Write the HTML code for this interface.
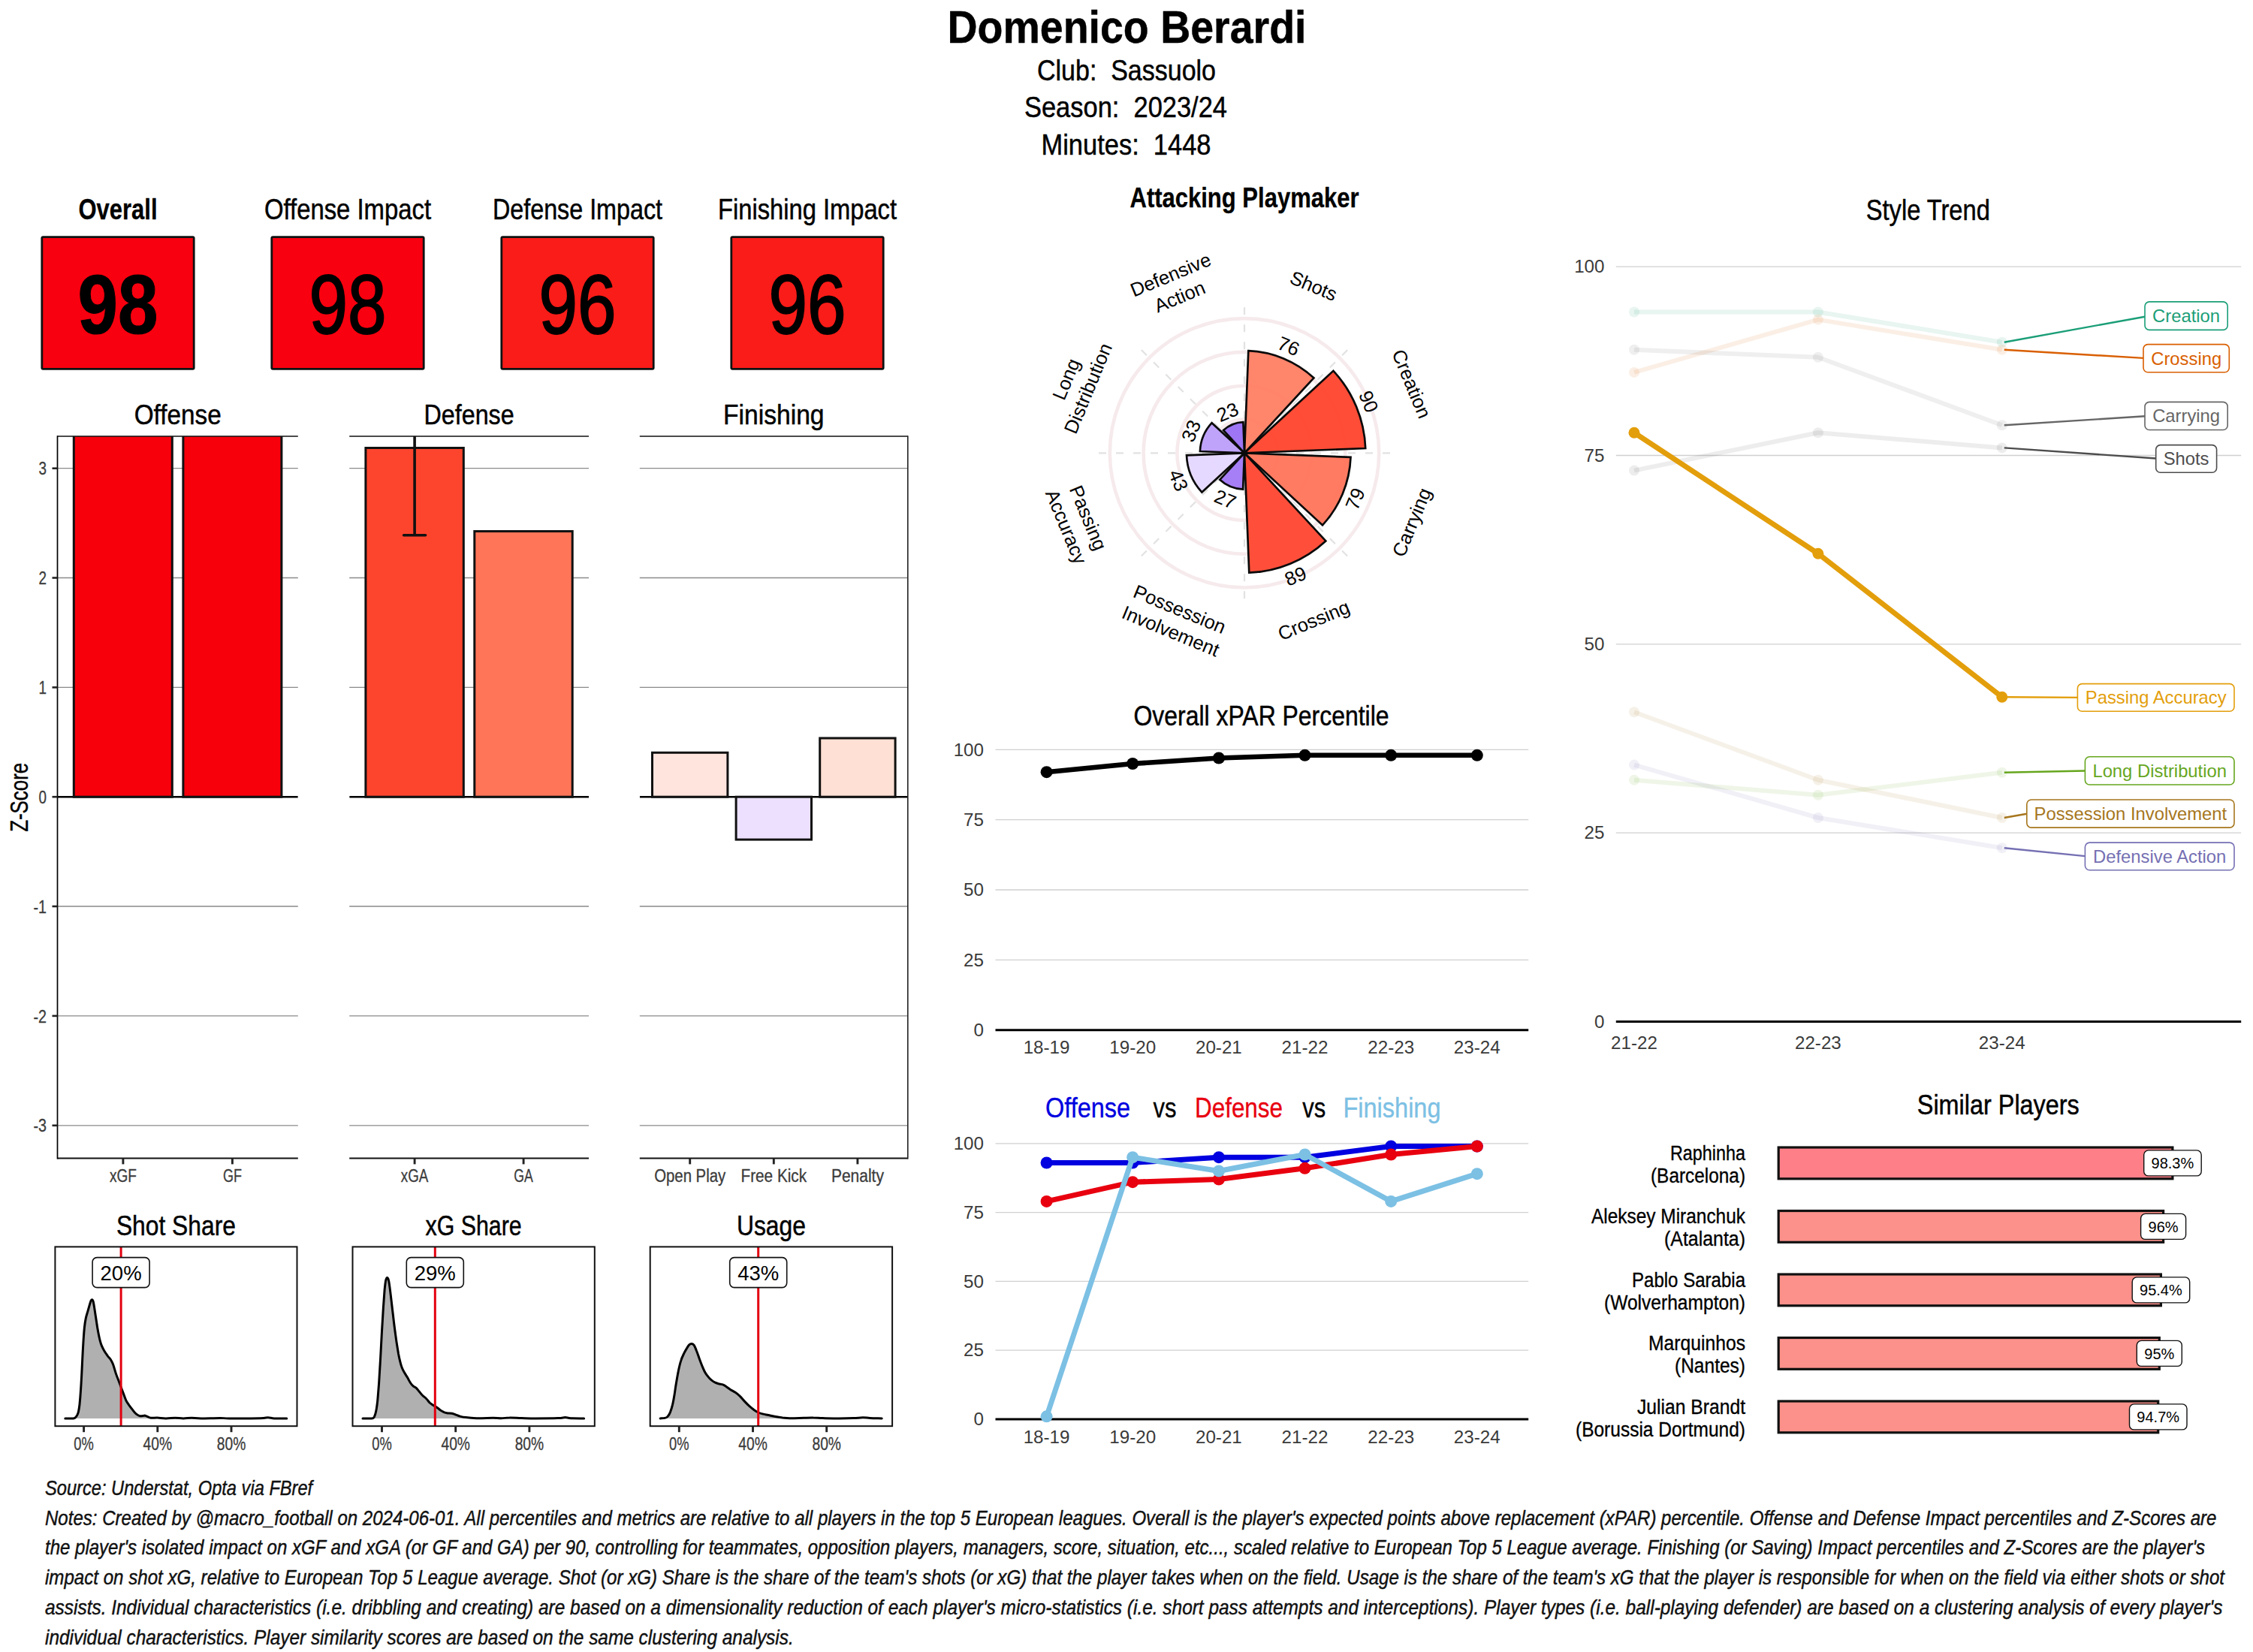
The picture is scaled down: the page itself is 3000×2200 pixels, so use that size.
<!DOCTYPE html>
<html><head><meta charset="utf-8"><title>Domenico Berardi</title>
<style>
html,body{margin:0;padding:0;background:#fff;}
svg{display:block;font-family:"Liberation Sans",Arial,sans-serif;}
</style></head><body>
<svg width="3000" height="2200" viewBox="0 0 3000 2200">
<rect x="0" y="0" width="3000" height="2200" fill="#fff"/>
<g id="title">
<text x="1500.5" y="57.4" font-size="60.5" text-anchor="middle" fill="#000" stroke="#000" stroke-width="0.48" stroke-linejoin="round" font-weight="bold" textLength="478.0" lengthAdjust="spacingAndGlyphs">Domenico Berardi</text>
<text x="1500.0" y="106.5" font-size="38" text-anchor="middle" fill="#000" stroke="#000" stroke-width="0.49" stroke-linejoin="round" textLength="238.0" lengthAdjust="spacingAndGlyphs" xml:space="preserve">Club:  Sassuolo</text>
<text x="1499.0" y="155.5" font-size="38" text-anchor="middle" fill="#000" stroke="#000" stroke-width="0.49" stroke-linejoin="round" textLength="270.0" lengthAdjust="spacingAndGlyphs" xml:space="preserve">Season:  2023/24</text>
<text x="1499.5" y="206.0" font-size="38" text-anchor="middle" fill="#000" stroke="#000" stroke-width="0.49" stroke-linejoin="round" textLength="226.0" lengthAdjust="spacingAndGlyphs" xml:space="preserve">Minutes:  1448</text>
</g>
<g id="boxes">
<rect x="55.8" y="315.6" width="202.4" height="175.7" rx="1.5" fill="#F8000F" stroke="#111" stroke-width="2.8"/>
<text x="157.0" y="292.0" font-size="38" text-anchor="middle" fill="#000" stroke="#000" stroke-width="0.30" stroke-linejoin="round" font-weight="bold" textLength="105.0" lengthAdjust="spacingAndGlyphs">Overall</text>
<text x="157.0" y="443.6" font-size="110.5" text-anchor="middle" fill="#000" stroke="#000" stroke-width="1.20" stroke-linejoin="round" font-weight="bold" textLength="107.0" lengthAdjust="spacingAndGlyphs">98</text>
<rect x="361.8" y="315.6" width="202.4" height="175.7" rx="1.5" fill="#F8000F" stroke="#111" stroke-width="2.8"/>
<text x="463.0" y="292.0" font-size="38" text-anchor="middle" fill="#000" stroke="#000" stroke-width="0.49" stroke-linejoin="round" textLength="222.0" lengthAdjust="spacingAndGlyphs">Offense Impact</text>
<text x="463.0" y="443.6" font-size="110.5" text-anchor="middle" fill="#000" stroke="#000" stroke-width="2.00" stroke-linejoin="round" textLength="103.0" lengthAdjust="spacingAndGlyphs">98</text>
<rect x="667.8" y="315.6" width="202.4" height="175.7" rx="1.5" fill="#F91C18" stroke="#111" stroke-width="2.8"/>
<text x="769.0" y="292.0" font-size="38" text-anchor="middle" fill="#000" stroke="#000" stroke-width="0.49" stroke-linejoin="round" textLength="226.0" lengthAdjust="spacingAndGlyphs">Defense Impact</text>
<text x="769.0" y="443.6" font-size="110.5" text-anchor="middle" fill="#000" stroke="#000" stroke-width="2.00" stroke-linejoin="round" textLength="103.0" lengthAdjust="spacingAndGlyphs">96</text>
<rect x="973.8" y="315.6" width="202.4" height="175.7" rx="1.5" fill="#F91C18" stroke="#111" stroke-width="2.8"/>
<text x="1075.0" y="292.0" font-size="38" text-anchor="middle" fill="#000" stroke="#000" stroke-width="0.49" stroke-linejoin="round" textLength="238.0" lengthAdjust="spacingAndGlyphs">Finishing Impact</text>
<text x="1075.0" y="443.6" font-size="110.5" text-anchor="middle" fill="#000" stroke="#000" stroke-width="2.00" stroke-linejoin="round" textLength="103.0" lengthAdjust="spacingAndGlyphs">96</text>
</g>
<g id="bars">
<line x1="76.5" x2="396.8" y1="1498.8" y2="1498.8" stroke="#8a8a8a" stroke-width="1.3"/>
<line x1="76.5" x2="396.8" y1="1352.9" y2="1352.9" stroke="#8a8a8a" stroke-width="1.3"/>
<line x1="76.5" x2="396.8" y1="1207.0" y2="1207.0" stroke="#8a8a8a" stroke-width="1.3"/>
<line x1="76.5" x2="396.8" y1="915.4" y2="915.4" stroke="#8a8a8a" stroke-width="1.3"/>
<line x1="76.5" x2="396.8" y1="769.5" y2="769.5" stroke="#8a8a8a" stroke-width="1.3"/>
<line x1="76.5" x2="396.8" y1="623.7" y2="623.7" stroke="#8a8a8a" stroke-width="1.3"/>
<clipPath id="cp0"><rect x="76.5" y="581" width="320.3" height="961.4000000000001"/></clipPath>
<g clip-path="url(#cp0)">
<line x1="76.5" x2="396.8" y1="1061.2" y2="1061.2" stroke="#000" stroke-width="2.5"/>
<rect x="98.3" y="565.3" width="131.0" height="495.9" fill="#F7000C" stroke="#111" stroke-width="3"/>
<rect x="243.9" y="565.3" width="131.0" height="495.9" fill="#F7000C" stroke="#111" stroke-width="3"/>
</g>
<line x1="76.5" x2="396.8" y1="581" y2="581" stroke="#111" stroke-width="1.6"/>
<line x1="76.5" x2="396.8" y1="1542.4" y2="1542.4" stroke="#111" stroke-width="2"/>
<line x1="76.5" x2="76.5" y1="580.2" y2="1543.4" stroke="#000" stroke-width="1.7"/>
<line x1="163.9" x2="163.9" y1="1542.4" y2="1550.4" stroke="#222" stroke-width="2.9"/>
<text x="163.9" y="1574.0" font-size="23.5" text-anchor="middle" fill="#3c3c3c" stroke="#3c3c3c" stroke-width="0.31" stroke-linejoin="round" textLength="36.0" lengthAdjust="spacingAndGlyphs">xGF</text>
<line x1="309.4" x2="309.4" y1="1542.4" y2="1550.4" stroke="#222" stroke-width="2.9"/>
<text x="309.4" y="1574.0" font-size="23.5" text-anchor="middle" fill="#3c3c3c" stroke="#3c3c3c" stroke-width="0.31" stroke-linejoin="round" textLength="25.0" lengthAdjust="spacingAndGlyphs">GF</text>
<text x="236.7" y="565.0" font-size="37" text-anchor="middle" fill="#000" stroke="#000" stroke-width="0.48" stroke-linejoin="round" textLength="116.0" lengthAdjust="spacingAndGlyphs">Offense</text>
<line x1="465.2" x2="784" y1="1498.8" y2="1498.8" stroke="#8a8a8a" stroke-width="1.3"/>
<line x1="465.2" x2="784" y1="1352.9" y2="1352.9" stroke="#8a8a8a" stroke-width="1.3"/>
<line x1="465.2" x2="784" y1="1207.0" y2="1207.0" stroke="#8a8a8a" stroke-width="1.3"/>
<line x1="465.2" x2="784" y1="915.4" y2="915.4" stroke="#8a8a8a" stroke-width="1.3"/>
<line x1="465.2" x2="784" y1="769.5" y2="769.5" stroke="#8a8a8a" stroke-width="1.3"/>
<line x1="465.2" x2="784" y1="623.7" y2="623.7" stroke="#8a8a8a" stroke-width="1.3"/>
<clipPath id="cp1"><rect x="465.2" y="581" width="318.8" height="961.4000000000001"/></clipPath>
<g clip-path="url(#cp1)">
<line x1="465.2" x2="784" y1="1061.2" y2="1061.2" stroke="#000" stroke-width="2.5"/>
<rect x="486.9" y="596.5" width="130.4" height="464.7" fill="#FD452E" stroke="#111" stroke-width="3"/>
<rect x="631.8" y="707.5" width="130.4" height="353.7" fill="#FE7558" stroke="#111" stroke-width="3"/>
<path d="M552.1 570V712.8M537.6 712.8H566.6" stroke="#111" stroke-width="3.6" stroke-linecap="round" fill="none"/>
</g>
<line x1="465.2" x2="784" y1="581" y2="581" stroke="#111" stroke-width="1.6"/>
<line x1="465.2" x2="784" y1="1542.4" y2="1542.4" stroke="#111" stroke-width="2"/>
<line x1="552.1" x2="552.1" y1="1542.4" y2="1550.4" stroke="#222" stroke-width="2.9"/>
<text x="552.1" y="1574.0" font-size="23.5" text-anchor="middle" fill="#3c3c3c" stroke="#3c3c3c" stroke-width="0.31" stroke-linejoin="round" textLength="36.5" lengthAdjust="spacingAndGlyphs">xGA</text>
<line x1="697.1" x2="697.1" y1="1542.4" y2="1550.4" stroke="#222" stroke-width="2.9"/>
<text x="697.1" y="1574.0" font-size="23.5" text-anchor="middle" fill="#3c3c3c" stroke="#3c3c3c" stroke-width="0.31" stroke-linejoin="round" textLength="25.5" lengthAdjust="spacingAndGlyphs">GA</text>
<text x="624.6" y="565.0" font-size="37" text-anchor="middle" fill="#000" stroke="#000" stroke-width="0.48" stroke-linejoin="round" textLength="120.0" lengthAdjust="spacingAndGlyphs">Defense</text>
<line x1="851.8" x2="1208.8" y1="1498.8" y2="1498.8" stroke="#8a8a8a" stroke-width="1.3"/>
<line x1="851.8" x2="1208.8" y1="1352.9" y2="1352.9" stroke="#8a8a8a" stroke-width="1.3"/>
<line x1="851.8" x2="1208.8" y1="1207.0" y2="1207.0" stroke="#8a8a8a" stroke-width="1.3"/>
<line x1="851.8" x2="1208.8" y1="915.4" y2="915.4" stroke="#8a8a8a" stroke-width="1.3"/>
<line x1="851.8" x2="1208.8" y1="769.5" y2="769.5" stroke="#8a8a8a" stroke-width="1.3"/>
<line x1="851.8" x2="1208.8" y1="623.7" y2="623.7" stroke="#8a8a8a" stroke-width="1.3"/>
<clipPath id="cp2"><rect x="851.8" y="581" width="357.0" height="961.4000000000001"/></clipPath>
<g clip-path="url(#cp2)">
<line x1="851.8" x2="1208.8" y1="1061.2" y2="1061.2" stroke="#000" stroke-width="2.5"/>
<rect x="868.5" y="1002.3" width="100.4" height="58.9" fill="#FEE4DD" stroke="#111" stroke-width="3"/>
<rect x="980.1" y="1061.2" width="100.4" height="56.9" fill="#ECE0FE" stroke="#111" stroke-width="3"/>
<rect x="1091.7" y="983.0" width="100.4" height="78.2" fill="#FEE0D4" stroke="#111" stroke-width="3"/>
</g>
<line x1="851.8" x2="1208.8" y1="581" y2="581" stroke="#111" stroke-width="1.6"/>
<line x1="851.8" x2="1208.8" y1="1542.4" y2="1542.4" stroke="#111" stroke-width="2"/>
<line x1="1208.8" x2="1208.8" y1="580.2" y2="1543.4" stroke="#222" stroke-width="1.6"/>
<line x1="918.7" x2="918.7" y1="1542.4" y2="1550.4" stroke="#222" stroke-width="2.9"/>
<text x="918.7" y="1574.0" font-size="23.5" text-anchor="middle" fill="#3c3c3c" stroke="#3c3c3c" stroke-width="0.31" stroke-linejoin="round" textLength="95.0" lengthAdjust="spacingAndGlyphs">Open Play</text>
<line x1="1030.3" x2="1030.3" y1="1542.4" y2="1550.4" stroke="#222" stroke-width="2.9"/>
<text x="1030.3" y="1574.0" font-size="23.5" text-anchor="middle" fill="#3c3c3c" stroke="#3c3c3c" stroke-width="0.31" stroke-linejoin="round" textLength="87.5" lengthAdjust="spacingAndGlyphs">Free Kick</text>
<line x1="1141.9" x2="1141.9" y1="1542.4" y2="1550.4" stroke="#222" stroke-width="2.9"/>
<text x="1141.9" y="1574.0" font-size="23.5" text-anchor="middle" fill="#3c3c3c" stroke="#3c3c3c" stroke-width="0.31" stroke-linejoin="round" textLength="70.0" lengthAdjust="spacingAndGlyphs">Penalty</text>
<text x="1030.3" y="565.0" font-size="37" text-anchor="middle" fill="#000" stroke="#000" stroke-width="0.48" stroke-linejoin="round" textLength="134.5" lengthAdjust="spacingAndGlyphs">Finishing</text>
<line x1="69.5" x2="76.5" y1="1498.8" y2="1498.8" stroke="#222" stroke-width="2.6"/>
<text x="62.0" y="1507.3" font-size="24" text-anchor="end" fill="#3c3c3c" stroke="#3c3c3c" stroke-width="0.31" stroke-linejoin="round" textLength="17.5" lengthAdjust="spacingAndGlyphs">-3</text>
<line x1="69.5" x2="76.5" y1="1352.9" y2="1352.9" stroke="#222" stroke-width="2.6"/>
<text x="62.0" y="1361.5" font-size="24" text-anchor="end" fill="#3c3c3c" stroke="#3c3c3c" stroke-width="0.31" stroke-linejoin="round" textLength="17.5" lengthAdjust="spacingAndGlyphs">-2</text>
<line x1="69.5" x2="76.5" y1="1207.0" y2="1207.0" stroke="#222" stroke-width="2.6"/>
<text x="62.0" y="1215.6" font-size="24" text-anchor="end" fill="#3c3c3c" stroke="#3c3c3c" stroke-width="0.31" stroke-linejoin="round" textLength="17.5" lengthAdjust="spacingAndGlyphs">-1</text>
<line x1="69.5" x2="76.5" y1="1061.2" y2="1061.2" stroke="#222" stroke-width="2.6"/>
<text x="62.0" y="1069.8" font-size="24" text-anchor="end" fill="#3c3c3c" stroke="#3c3c3c" stroke-width="0.31" stroke-linejoin="round" textLength="10.5" lengthAdjust="spacingAndGlyphs">0</text>
<line x1="69.5" x2="76.5" y1="915.4" y2="915.4" stroke="#222" stroke-width="2.6"/>
<text x="62.0" y="924.0" font-size="24" text-anchor="end" fill="#3c3c3c" stroke="#3c3c3c" stroke-width="0.31" stroke-linejoin="round" textLength="10.5" lengthAdjust="spacingAndGlyphs">1</text>
<line x1="69.5" x2="76.5" y1="769.5" y2="769.5" stroke="#222" stroke-width="2.6"/>
<text x="62.0" y="778.1" font-size="24" text-anchor="end" fill="#3c3c3c" stroke="#3c3c3c" stroke-width="0.31" stroke-linejoin="round" textLength="10.5" lengthAdjust="spacingAndGlyphs">2</text>
<line x1="69.5" x2="76.5" y1="623.7" y2="623.7" stroke="#222" stroke-width="2.6"/>
<text x="62.0" y="632.3" font-size="24" text-anchor="end" fill="#3c3c3c" stroke="#3c3c3c" stroke-width="0.31" stroke-linejoin="round" textLength="10.5" lengthAdjust="spacingAndGlyphs">3</text>
<text x="37.0" y="1061.8" font-size="32.5" text-anchor="middle" fill="#000" stroke="#000" stroke-width="0.42" stroke-linejoin="round" textLength="92.0" lengthAdjust="spacingAndGlyphs" transform="rotate(-90.00 37.0 1061.8)">Z-Score</text>
</g>
<g id="dens">
<path d="M86.8 1888.9C88.6 1888.9 95.4 1889.2 97.8 1888.9C100.2 1888.6 100.2 1888.1 101.2 1886.9C102.3 1885.6 103.3 1884.1 104.1 1881.4C104.9 1878.6 105.4 1875.3 106.0 1870.3C106.5 1865.3 107.0 1859.3 107.5 1851.4C108.1 1843.6 108.6 1833.1 109.1 1823.1C109.6 1813.2 110.1 1800.8 110.7 1791.6C111.2 1782.5 111.8 1774.1 112.4 1768.0C113.0 1762.0 113.5 1759.4 114.3 1755.4C115.1 1751.5 116.4 1748.1 117.4 1744.4C118.5 1740.8 119.8 1735.7 120.6 1733.4C121.4 1731.1 121.9 1730.7 122.5 1730.7C123.1 1730.7 123.6 1731.1 124.2 1733.4C124.8 1735.7 125.4 1740.0 126.1 1744.4C126.8 1748.9 127.7 1755.2 128.5 1760.2C129.2 1765.2 130.0 1770.1 130.8 1774.3C131.6 1778.5 132.4 1782.3 133.2 1785.3C134.0 1788.4 134.6 1790.2 135.5 1792.4C136.5 1794.7 137.4 1796.5 138.7 1798.7C140.0 1801.0 142.0 1803.8 143.4 1805.8C144.9 1807.8 146.2 1808.7 147.3 1810.5C148.5 1812.4 149.3 1813.7 150.5 1816.8C151.7 1820.0 153.0 1825.2 154.4 1829.4C155.9 1833.6 157.6 1837.8 159.2 1842.0C160.7 1846.2 162.4 1850.8 163.9 1854.6C165.3 1858.4 166.5 1862.1 167.8 1864.8C169.1 1867.6 170.3 1869.0 171.7 1871.1C173.2 1873.2 174.9 1875.4 176.5 1877.4C178.0 1879.4 179.6 1881.6 181.2 1882.9C182.8 1884.3 184.5 1885.2 185.9 1885.6C187.3 1886.0 188.7 1885.7 189.8 1885.6C191.0 1885.5 191.9 1885.0 193.0 1885.1C194.0 1885.3 194.8 1885.9 196.1 1886.4C197.4 1886.9 198.6 1888.0 200.9 1888.3C203.1 1888.5 206.2 1887.9 209.5 1888.0C212.8 1888.1 216.6 1888.9 220.5 1888.9C224.5 1889.0 229.2 1888.3 233.1 1888.3C237.1 1888.3 240.5 1888.9 244.1 1888.9C247.8 1888.9 251.2 1888.3 255.2 1888.3C259.1 1888.3 261.4 1888.9 267.7 1888.9C274.0 1888.9 286.6 1888.4 292.9 1888.4C299.2 1888.4 296.6 1888.9 305.5 1888.9C314.4 1889.0 337.9 1888.9 346.4 1888.7C355.0 1888.6 353.5 1887.8 356.7 1887.8C359.8 1887.8 361.1 1888.7 365.3 1888.9C369.5 1889.1 379.1 1888.9 381.8 1888.9L381.8 1888.9L86.8 1888.9Z" fill="#b0b0b0"/>
<path d="M86.8 1888.9C88.6 1888.9 95.4 1889.2 97.8 1888.9C100.2 1888.6 100.2 1888.1 101.2 1886.9C102.3 1885.6 103.3 1884.1 104.1 1881.4C104.9 1878.6 105.4 1875.3 106.0 1870.3C106.5 1865.3 107.0 1859.3 107.5 1851.4C108.1 1843.6 108.6 1833.1 109.1 1823.1C109.6 1813.2 110.1 1800.8 110.7 1791.6C111.2 1782.5 111.8 1774.1 112.4 1768.0C113.0 1762.0 113.5 1759.4 114.3 1755.4C115.1 1751.5 116.4 1748.1 117.4 1744.4C118.5 1740.8 119.8 1735.7 120.6 1733.4C121.4 1731.1 121.9 1730.7 122.5 1730.7C123.1 1730.7 123.6 1731.1 124.2 1733.4C124.8 1735.7 125.4 1740.0 126.1 1744.4C126.8 1748.9 127.7 1755.2 128.5 1760.2C129.2 1765.2 130.0 1770.1 130.8 1774.3C131.6 1778.5 132.4 1782.3 133.2 1785.3C134.0 1788.4 134.6 1790.2 135.5 1792.4C136.5 1794.7 137.4 1796.5 138.7 1798.7C140.0 1801.0 142.0 1803.8 143.4 1805.8C144.9 1807.8 146.2 1808.7 147.3 1810.5C148.5 1812.4 149.3 1813.7 150.5 1816.8C151.7 1820.0 153.0 1825.2 154.4 1829.4C155.9 1833.6 157.6 1837.8 159.2 1842.0C160.7 1846.2 162.4 1850.8 163.9 1854.6C165.3 1858.4 166.5 1862.1 167.8 1864.8C169.1 1867.6 170.3 1869.0 171.7 1871.1C173.2 1873.2 174.9 1875.4 176.5 1877.4C178.0 1879.4 179.6 1881.6 181.2 1882.9C182.8 1884.3 184.5 1885.2 185.9 1885.6C187.3 1886.0 188.7 1885.7 189.8 1885.6C191.0 1885.5 191.9 1885.0 193.0 1885.1C194.0 1885.3 194.8 1885.9 196.1 1886.4C197.4 1886.9 198.6 1888.0 200.9 1888.3C203.1 1888.5 206.2 1887.9 209.5 1888.0C212.8 1888.1 216.6 1888.9 220.5 1888.9C224.5 1889.0 229.2 1888.3 233.1 1888.3C237.1 1888.3 240.5 1888.9 244.1 1888.9C247.8 1888.9 251.2 1888.3 255.2 1888.3C259.1 1888.3 261.4 1888.9 267.7 1888.9C274.0 1888.9 286.6 1888.4 292.9 1888.4C299.2 1888.4 296.6 1888.9 305.5 1888.9C314.4 1889.0 337.9 1888.9 346.4 1888.7C355.0 1888.6 353.5 1887.8 356.7 1887.8C359.8 1887.8 361.1 1888.7 365.3 1888.9C369.5 1889.1 379.1 1888.9 381.8 1888.9" fill="none" stroke="#000" stroke-width="3" stroke-linejoin="round" stroke-linecap="round"/>
<line x1="161.1" x2="161.1" y1="1660.4" y2="1899.2" stroke="#E3000F" stroke-width="3"/>
<rect x="73.4" y="1660.4" width="322.1" height="238.8" fill="none" stroke="#111" stroke-width="2"/>
<rect x="123.1" y="1674.6" width="76" height="40" rx="6" fill="#fff" stroke="#111" stroke-width="1.6"/>
<text x="161.1" y="1704.5" font-size="27.5" text-anchor="middle" fill="#000">20%</text>
<line x1="111.6" x2="111.6" y1="1899.2" y2="1907.2" stroke="#222" stroke-width="2.9"/>
<text x="111.6" y="1931.2" font-size="23.5" text-anchor="middle" fill="#3c3c3c" stroke="#3c3c3c" stroke-width="0.31" stroke-linejoin="round" textLength="26.5" lengthAdjust="spacingAndGlyphs">0%</text>
<line x1="209.8" x2="209.8" y1="1899.2" y2="1907.2" stroke="#222" stroke-width="2.9"/>
<text x="209.8" y="1931.2" font-size="23.5" text-anchor="middle" fill="#3c3c3c" stroke="#3c3c3c" stroke-width="0.31" stroke-linejoin="round" textLength="38.5" lengthAdjust="spacingAndGlyphs">40%</text>
<line x1="308.0" x2="308.0" y1="1899.2" y2="1907.2" stroke="#222" stroke-width="2.9"/>
<text x="308.0" y="1931.2" font-size="23.5" text-anchor="middle" fill="#3c3c3c" stroke="#3c3c3c" stroke-width="0.31" stroke-linejoin="round" textLength="38.5" lengthAdjust="spacingAndGlyphs">80%</text>
<text x="234.4" y="1644.5" font-size="37" text-anchor="middle" fill="#000" stroke="#000" stroke-width="0.48" stroke-linejoin="round" textLength="159.0" lengthAdjust="spacingAndGlyphs">Shot Share</text>
<path d="M483.0 1888.9C485.0 1888.9 492.6 1889.2 495.1 1888.9C497.7 1888.6 497.4 1888.4 498.3 1886.9C499.2 1885.3 499.9 1883.3 500.6 1879.8C501.4 1876.2 502.0 1871.9 502.7 1865.6C503.3 1859.3 503.9 1851.2 504.6 1842.0C505.2 1832.8 505.8 1822.1 506.5 1810.5C507.1 1799.0 507.9 1784.3 508.5 1772.8C509.2 1761.2 509.8 1750.5 510.4 1741.3C511.0 1732.1 511.6 1723.7 512.1 1717.7C512.7 1711.6 513.1 1707.8 513.7 1705.1C514.3 1702.4 515.0 1701.6 515.6 1701.6C516.2 1701.6 516.9 1702.7 517.5 1705.1C518.1 1707.5 518.6 1711.6 519.2 1716.1C519.8 1720.6 520.4 1725.8 521.1 1731.8C521.8 1737.9 522.7 1745.7 523.5 1752.3C524.2 1758.9 525.0 1765.2 525.8 1771.2C526.6 1777.2 527.4 1783.2 528.2 1788.5C529.0 1793.7 529.8 1798.5 530.5 1802.7C531.3 1806.9 532.1 1810.5 532.9 1813.7C533.7 1816.8 534.3 1819.2 535.3 1821.5C536.2 1823.9 537.2 1825.7 538.4 1827.8C539.6 1829.9 541.0 1831.9 542.3 1834.1C543.7 1836.4 545.0 1839.3 546.3 1841.2C547.6 1843.2 548.9 1844.8 550.2 1845.9C551.5 1847.1 552.8 1847.1 554.2 1848.3C555.5 1849.5 556.6 1851.3 558.1 1853.0C559.5 1854.7 561.2 1857.0 562.8 1858.5C564.4 1860.1 566.0 1860.9 567.5 1862.5C569.1 1864.0 570.7 1866.5 572.2 1868.0C573.8 1869.5 575.4 1870.5 577.0 1871.6C578.5 1872.6 580.1 1873.2 581.7 1874.3C583.3 1875.3 584.8 1876.8 586.4 1877.9C588.0 1878.9 589.7 1879.9 591.1 1880.6C592.6 1881.2 593.4 1881.5 595.1 1881.8C596.8 1882.1 599.5 1882.0 601.4 1882.3C603.2 1882.6 604.2 1883.1 606.1 1883.7C607.9 1884.3 610.0 1885.4 612.4 1886.1C614.7 1886.7 616.6 1887.2 620.3 1887.6C623.9 1888.1 628.4 1888.6 634.4 1888.7C640.4 1888.9 650.9 1888.3 656.4 1888.3C662.0 1888.3 663.8 1888.8 667.5 1888.7C671.1 1888.7 674.0 1888.0 678.5 1888.0C682.9 1887.9 688.4 1888.4 694.2 1888.6C700.0 1888.7 705.0 1888.9 713.1 1888.9C721.2 1888.9 736.5 1888.8 743.0 1888.6C749.6 1888.4 749.6 1887.6 752.5 1887.6C755.3 1887.7 756.1 1888.5 760.3 1888.7C764.5 1889.0 774.7 1888.9 777.6 1888.9L777.6 1888.9L483.0 1888.9Z" fill="#b0b0b0"/>
<path d="M483.0 1888.9C485.0 1888.9 492.6 1889.2 495.1 1888.9C497.7 1888.6 497.4 1888.4 498.3 1886.9C499.2 1885.3 499.9 1883.3 500.6 1879.8C501.4 1876.2 502.0 1871.9 502.7 1865.6C503.3 1859.3 503.9 1851.2 504.6 1842.0C505.2 1832.8 505.8 1822.1 506.5 1810.5C507.1 1799.0 507.9 1784.3 508.5 1772.8C509.2 1761.2 509.8 1750.5 510.4 1741.3C511.0 1732.1 511.6 1723.7 512.1 1717.7C512.7 1711.6 513.1 1707.8 513.7 1705.1C514.3 1702.4 515.0 1701.6 515.6 1701.6C516.2 1701.6 516.9 1702.7 517.5 1705.1C518.1 1707.5 518.6 1711.6 519.2 1716.1C519.8 1720.6 520.4 1725.8 521.1 1731.8C521.8 1737.9 522.7 1745.7 523.5 1752.3C524.2 1758.9 525.0 1765.2 525.8 1771.2C526.6 1777.2 527.4 1783.2 528.2 1788.5C529.0 1793.7 529.8 1798.5 530.5 1802.7C531.3 1806.9 532.1 1810.5 532.9 1813.7C533.7 1816.8 534.3 1819.2 535.3 1821.5C536.2 1823.9 537.2 1825.7 538.4 1827.8C539.6 1829.9 541.0 1831.9 542.3 1834.1C543.7 1836.4 545.0 1839.3 546.3 1841.2C547.6 1843.2 548.9 1844.8 550.2 1845.9C551.5 1847.1 552.8 1847.1 554.2 1848.3C555.5 1849.5 556.6 1851.3 558.1 1853.0C559.5 1854.7 561.2 1857.0 562.8 1858.5C564.4 1860.1 566.0 1860.9 567.5 1862.5C569.1 1864.0 570.7 1866.5 572.2 1868.0C573.8 1869.5 575.4 1870.5 577.0 1871.6C578.5 1872.6 580.1 1873.2 581.7 1874.3C583.3 1875.3 584.8 1876.8 586.4 1877.9C588.0 1878.9 589.7 1879.9 591.1 1880.6C592.6 1881.2 593.4 1881.5 595.1 1881.8C596.8 1882.1 599.5 1882.0 601.4 1882.3C603.2 1882.6 604.2 1883.1 606.1 1883.7C607.9 1884.3 610.0 1885.4 612.4 1886.1C614.7 1886.7 616.6 1887.2 620.3 1887.6C623.9 1888.1 628.4 1888.6 634.4 1888.7C640.4 1888.9 650.9 1888.3 656.4 1888.3C662.0 1888.3 663.8 1888.8 667.5 1888.7C671.1 1888.7 674.0 1888.0 678.5 1888.0C682.9 1887.9 688.4 1888.4 694.2 1888.6C700.0 1888.7 705.0 1888.9 713.1 1888.9C721.2 1888.9 736.5 1888.8 743.0 1888.6C749.6 1888.4 749.6 1887.6 752.5 1887.6C755.3 1887.7 756.1 1888.5 760.3 1888.7C764.5 1889.0 774.7 1888.9 777.6 1888.9" fill="none" stroke="#000" stroke-width="3" stroke-linejoin="round" stroke-linecap="round"/>
<line x1="579.3" x2="579.3" y1="1660.4" y2="1899.2" stroke="#E3000F" stroke-width="3"/>
<rect x="469.5" y="1660.4" width="322.3" height="238.8" fill="none" stroke="#111" stroke-width="2"/>
<rect x="541.3" y="1674.6" width="76" height="40" rx="6" fill="#fff" stroke="#111" stroke-width="1.6"/>
<text x="579.3" y="1704.5" font-size="27.5" text-anchor="middle" fill="#000">29%</text>
<line x1="508.5" x2="508.5" y1="1899.2" y2="1907.2" stroke="#222" stroke-width="2.9"/>
<text x="508.5" y="1931.2" font-size="23.5" text-anchor="middle" fill="#3c3c3c" stroke="#3c3c3c" stroke-width="0.31" stroke-linejoin="round" textLength="26.5" lengthAdjust="spacingAndGlyphs">0%</text>
<line x1="606.7" x2="606.7" y1="1899.2" y2="1907.2" stroke="#222" stroke-width="2.9"/>
<text x="606.7" y="1931.2" font-size="23.5" text-anchor="middle" fill="#3c3c3c" stroke="#3c3c3c" stroke-width="0.31" stroke-linejoin="round" textLength="38.5" lengthAdjust="spacingAndGlyphs">40%</text>
<line x1="704.9" x2="704.9" y1="1899.2" y2="1907.2" stroke="#222" stroke-width="2.9"/>
<text x="704.9" y="1931.2" font-size="23.5" text-anchor="middle" fill="#3c3c3c" stroke="#3c3c3c" stroke-width="0.31" stroke-linejoin="round" textLength="38.5" lengthAdjust="spacingAndGlyphs">80%</text>
<text x="630.6" y="1644.5" font-size="37" text-anchor="middle" fill="#000" stroke="#000" stroke-width="0.48" stroke-linejoin="round" textLength="128.0" lengthAdjust="spacingAndGlyphs">xG Share</text>
<path d="M879.1 1888.9C880.2 1888.8 883.7 1888.9 885.4 1888.4C887.1 1888.0 888.2 1887.4 889.3 1886.1C890.5 1884.8 891.4 1883.2 892.5 1880.6C893.5 1877.9 894.7 1874.1 895.6 1870.3C896.6 1866.5 897.2 1862.5 898.0 1857.7C898.8 1853.0 899.4 1847.5 900.4 1842.0C901.3 1836.5 902.5 1829.7 903.5 1824.7C904.6 1819.7 905.5 1815.8 906.7 1812.1C907.8 1808.4 909.3 1805.4 910.6 1802.7C911.9 1799.9 913.3 1797.5 914.5 1795.6C915.7 1793.6 916.6 1791.9 917.7 1790.9C918.8 1789.9 920.0 1789.5 921.1 1789.6C922.2 1789.7 923.2 1790.1 924.3 1791.6C925.3 1793.2 926.3 1795.8 927.4 1798.7C928.6 1801.6 929.8 1805.5 931.1 1809.0C932.3 1812.4 933.7 1816.0 935.0 1819.2C936.3 1822.3 937.6 1825.5 938.9 1827.8C940.2 1830.2 941.4 1831.6 942.9 1833.3C944.3 1835.1 946.0 1836.8 947.6 1838.1C949.2 1839.4 950.7 1840.4 952.3 1841.2C953.9 1842.0 955.3 1842.3 957.0 1842.8C958.7 1843.2 960.8 1843.2 962.5 1843.9C964.2 1844.5 965.5 1845.6 967.2 1846.7C969.0 1847.9 970.8 1849.4 972.8 1850.7C974.7 1851.9 977.0 1852.8 979.1 1854.3C981.2 1855.7 983.2 1857.3 985.3 1859.3C987.4 1861.3 989.5 1864.2 991.6 1866.4C993.7 1868.6 995.8 1870.8 997.9 1872.7C1000.0 1874.6 1002.3 1876.3 1004.2 1877.7C1006.2 1879.1 1007.9 1880.2 1009.7 1881.0C1011.6 1881.9 1013.0 1882.3 1015.3 1882.9C1017.5 1883.5 1020.2 1883.9 1023.1 1884.5C1026.0 1885.1 1029.4 1886.0 1032.6 1886.5C1035.7 1887.1 1038.9 1887.6 1042.0 1888.0C1045.2 1888.3 1046.7 1888.7 1051.4 1888.7C1056.2 1888.8 1065.1 1888.4 1070.3 1888.3C1075.6 1888.1 1078.7 1887.9 1082.9 1888.0C1087.1 1888.0 1089.7 1888.4 1095.5 1888.6C1101.3 1888.7 1110.7 1888.9 1117.5 1888.9C1124.4 1888.9 1131.2 1888.8 1136.4 1888.6C1141.7 1888.4 1145.4 1887.8 1149.0 1887.8C1152.7 1887.8 1154.3 1888.2 1158.5 1888.4C1162.7 1888.6 1171.6 1888.8 1174.2 1888.9L1174.2 1888.9L879.1 1888.9Z" fill="#b0b0b0"/>
<path d="M879.1 1888.9C880.2 1888.8 883.7 1888.9 885.4 1888.4C887.1 1888.0 888.2 1887.4 889.3 1886.1C890.5 1884.8 891.4 1883.2 892.5 1880.6C893.5 1877.9 894.7 1874.1 895.6 1870.3C896.6 1866.5 897.2 1862.5 898.0 1857.7C898.8 1853.0 899.4 1847.5 900.4 1842.0C901.3 1836.5 902.5 1829.7 903.5 1824.7C904.6 1819.7 905.5 1815.8 906.7 1812.1C907.8 1808.4 909.3 1805.4 910.6 1802.7C911.9 1799.9 913.3 1797.5 914.5 1795.6C915.7 1793.6 916.6 1791.9 917.7 1790.9C918.8 1789.9 920.0 1789.5 921.1 1789.6C922.2 1789.7 923.2 1790.1 924.3 1791.6C925.3 1793.2 926.3 1795.8 927.4 1798.7C928.6 1801.6 929.8 1805.5 931.1 1809.0C932.3 1812.4 933.7 1816.0 935.0 1819.2C936.3 1822.3 937.6 1825.5 938.9 1827.8C940.2 1830.2 941.4 1831.6 942.9 1833.3C944.3 1835.1 946.0 1836.8 947.6 1838.1C949.2 1839.4 950.7 1840.4 952.3 1841.2C953.9 1842.0 955.3 1842.3 957.0 1842.8C958.7 1843.2 960.8 1843.2 962.5 1843.9C964.2 1844.5 965.5 1845.6 967.2 1846.7C969.0 1847.9 970.8 1849.4 972.8 1850.7C974.7 1851.9 977.0 1852.8 979.1 1854.3C981.2 1855.7 983.2 1857.3 985.3 1859.3C987.4 1861.3 989.5 1864.2 991.6 1866.4C993.7 1868.6 995.8 1870.8 997.9 1872.7C1000.0 1874.6 1002.3 1876.3 1004.2 1877.7C1006.2 1879.1 1007.9 1880.2 1009.7 1881.0C1011.6 1881.9 1013.0 1882.3 1015.3 1882.9C1017.5 1883.5 1020.2 1883.9 1023.1 1884.5C1026.0 1885.1 1029.4 1886.0 1032.6 1886.5C1035.7 1887.1 1038.9 1887.6 1042.0 1888.0C1045.2 1888.3 1046.7 1888.7 1051.4 1888.7C1056.2 1888.8 1065.1 1888.4 1070.3 1888.3C1075.6 1888.1 1078.7 1887.9 1082.9 1888.0C1087.1 1888.0 1089.7 1888.4 1095.5 1888.6C1101.3 1888.7 1110.7 1888.9 1117.5 1888.9C1124.4 1888.9 1131.2 1888.8 1136.4 1888.6C1141.7 1888.4 1145.4 1887.8 1149.0 1887.8C1152.7 1887.8 1154.3 1888.2 1158.5 1888.4C1162.7 1888.6 1171.6 1888.8 1174.2 1888.9" fill="none" stroke="#000" stroke-width="3" stroke-linejoin="round" stroke-linecap="round"/>
<line x1="1009.7" x2="1009.7" y1="1660.4" y2="1899.2" stroke="#E3000F" stroke-width="3"/>
<rect x="865.7" y="1660.4" width="322.4" height="238.8" fill="none" stroke="#111" stroke-width="2"/>
<rect x="971.7" y="1674.6" width="76" height="40" rx="6" fill="#fff" stroke="#111" stroke-width="1.6"/>
<text x="1009.7" y="1704.5" font-size="27.5" text-anchor="middle" fill="#000">43%</text>
<line x1="904.3" x2="904.3" y1="1899.2" y2="1907.2" stroke="#222" stroke-width="2.9"/>
<text x="904.3" y="1931.2" font-size="23.5" text-anchor="middle" fill="#3c3c3c" stroke="#3c3c3c" stroke-width="0.31" stroke-linejoin="round" textLength="26.5" lengthAdjust="spacingAndGlyphs">0%</text>
<line x1="1002.5" x2="1002.5" y1="1899.2" y2="1907.2" stroke="#222" stroke-width="2.9"/>
<text x="1002.5" y="1931.2" font-size="23.5" text-anchor="middle" fill="#3c3c3c" stroke="#3c3c3c" stroke-width="0.31" stroke-linejoin="round" textLength="38.5" lengthAdjust="spacingAndGlyphs">40%</text>
<line x1="1100.7" x2="1100.7" y1="1899.2" y2="1907.2" stroke="#222" stroke-width="2.9"/>
<text x="1100.7" y="1931.2" font-size="23.5" text-anchor="middle" fill="#3c3c3c" stroke="#3c3c3c" stroke-width="0.31" stroke-linejoin="round" textLength="38.5" lengthAdjust="spacingAndGlyphs">80%</text>
<text x="1026.9" y="1644.5" font-size="37" text-anchor="middle" fill="#000" stroke="#000" stroke-width="0.48" stroke-linejoin="round" textLength="92.0" lengthAdjust="spacingAndGlyphs">Usage</text>
</g>
<g id="radar">
<text x="1657.0" y="276.4" font-size="37" text-anchor="middle" fill="#000" stroke="#000" stroke-width="0.30" stroke-linejoin="round" font-weight="bold" textLength="305.0" lengthAdjust="spacingAndGlyphs">Attacking Playmaker</text>
<circle cx="1657.0" cy="603.3" r="44.8" fill="none" stroke="#F3E3E5" stroke-opacity="0.75" stroke-width="4.6"/>
<circle cx="1657.0" cy="603.3" r="89.6" fill="none" stroke="#F3E3E5" stroke-opacity="0.75" stroke-width="4.6"/>
<circle cx="1657.0" cy="603.3" r="134.4" fill="none" stroke="#F3E3E5" stroke-opacity="0.75" stroke-width="4.6"/>
<circle cx="1657.0" cy="603.3" r="179.2" fill="none" stroke="#F3E3E5" stroke-opacity="0.75" stroke-width="4.6"/>
<line x1="1657.0" y1="603.3" x2="1657.0" y2="406.3" stroke="#e2e2e2" stroke-width="2.2" stroke-dasharray="10 13"/>
<line x1="1657.0" y1="603.3" x2="1796.3" y2="464.0" stroke="#e2e2e2" stroke-width="2.2" stroke-dasharray="10 13"/>
<line x1="1657.0" y1="603.3" x2="1854.0" y2="603.3" stroke="#e2e2e2" stroke-width="2.2" stroke-dasharray="10 13"/>
<line x1="1657.0" y1="603.3" x2="1796.3" y2="742.6" stroke="#e2e2e2" stroke-width="2.2" stroke-dasharray="10 13"/>
<line x1="1657.0" y1="603.3" x2="1657.0" y2="800.3" stroke="#e2e2e2" stroke-width="2.2" stroke-dasharray="10 13"/>
<line x1="1657.0" y1="603.3" x2="1517.7" y2="742.6" stroke="#e2e2e2" stroke-width="2.2" stroke-dasharray="10 13"/>
<line x1="1657.0" y1="603.3" x2="1460.0" y2="603.3" stroke="#e2e2e2" stroke-width="2.2" stroke-dasharray="10 13"/>
<line x1="1657.0" y1="603.3" x2="1517.7" y2="464.0" stroke="#e2e2e2" stroke-width="2.2" stroke-dasharray="10 13"/>
<path d="M1657.0 603.3L1662.3 467.2A136.2 136.2 0 0 1 1749.4 503.3Z" fill="#FF7E63" fill-opacity="0.95" stroke="#0a0a0a" stroke-width="2.7" stroke-linejoin="miter"/>
<path d="M1657.0 603.3L1775.4 493.8A161.3 161.3 0 0 1 1818.2 597.0Z" fill="#FF432C" fill-opacity="0.95" stroke="#0a0a0a" stroke-width="2.7" stroke-linejoin="miter"/>
<path d="M1657.0 603.3L1798.5 608.9A141.6 141.6 0 0 1 1761.0 699.4Z" fill="#FF745A" fill-opacity="0.95" stroke="#0a0a0a" stroke-width="2.7" stroke-linejoin="miter"/>
<path d="M1657.0 603.3L1765.3 720.4A159.5 159.5 0 0 1 1663.3 762.7Z" fill="#FF462F" fill-opacity="0.95" stroke="#0a0a0a" stroke-width="2.7" stroke-linejoin="miter"/>
<path d="M1657.0 603.3L1655.1 651.6A48.4 48.4 0 0 1 1624.2 638.8Z" fill="#A178F5" fill-opacity="0.95" stroke="#0a0a0a" stroke-width="2.7" stroke-linejoin="miter"/>
<path d="M1657.0 603.3L1600.4 655.6A77.1 77.1 0 0 1 1580.0 606.3Z" fill="#E5D7FF" fill-opacity="0.95" stroke="#0a0a0a" stroke-width="2.7" stroke-linejoin="miter"/>
<path d="M1657.0 603.3L1597.9 601.0A59.1 59.1 0 0 1 1613.6 563.2Z" fill="#BC9EFA" fill-opacity="0.95" stroke="#0a0a0a" stroke-width="2.7" stroke-linejoin="miter"/>
<path d="M1657.0 603.3L1629.0 573.0A41.2 41.2 0 0 1 1655.4 562.1Z" fill="#996EF3" fill-opacity="0.95" stroke="#0a0a0a" stroke-width="2.7" stroke-linejoin="miter"/>
<text font-size="25.6" text-anchor="middle" transform="translate(1716.0 460.9) rotate(22.5)" y="9.1">76</text>
<text font-size="25.5" text-anchor="middle" transform="translate(1749.2 380.6) rotate(22.5)" y="9">Shots</text>
<text font-size="25.6" text-anchor="middle" transform="translate(1822.6 534.7) rotate(67.5)" y="9.1">90</text>
<text font-size="25.5" text-anchor="middle" transform="translate(1879.7 511.1) rotate(67.5)" y="9">Creation</text>
<text font-size="25.6" text-anchor="middle" transform="translate(1804.3 664.3) rotate(-67.5)" y="9.1">79</text>
<text font-size="25.5" text-anchor="middle" transform="translate(1879.7 695.5) rotate(-67.5)" y="9">Carrying</text>
<text font-size="25.6" text-anchor="middle" transform="translate(1724.9 767.2) rotate(-22.5)" y="9.1">89</text>
<text font-size="25.5" text-anchor="middle" transform="translate(1749.2 826.0) rotate(-22.5)" y="9">Crossing</text>
<text font-size="25.6" text-anchor="middle" transform="translate(1631.6 664.6) rotate(22.5)" y="9.1">27</text>
<text font-size="25.5" text-anchor="middle" transform="translate(1564.8 826.0) rotate(22.5)"><tspan x="0" y="-7">Possession</tspan><tspan x="0" y="24.5">Involvement</tspan></text>
<text font-size="25.6" text-anchor="middle" transform="translate(1569.3 639.6) rotate(67.5)" y="9.1">43</text>
<text font-size="25.5" text-anchor="middle" transform="translate(1434.3 695.5) rotate(67.5)"><tspan x="0" y="-7">Passing</tspan><tspan x="0" y="24.5">Accuracy</tspan></text>
<text font-size="25.6" text-anchor="middle" transform="translate(1585.8 573.8) rotate(-67.5)" y="9.1">33</text>
<text font-size="25.5" text-anchor="middle" transform="translate(1434.3 511.1) rotate(-67.5)"><tspan x="0" y="-7">Long</tspan><tspan x="0" y="24.5">Distribution</tspan></text>
<text font-size="25.6" text-anchor="middle" transform="translate(1634.4 548.7) rotate(-22.5)" y="9.1">23</text>
<text font-size="25.5" text-anchor="middle" transform="translate(1564.8 380.6) rotate(-22.5)"><tspan x="0" y="-7">Defensive</tspan><tspan x="0" y="24.5">Action</tspan></text>
</g>
<g id="xpar">
<text x="1679.5" y="965.5" font-size="37.5" text-anchor="middle" fill="#000" stroke="#000" stroke-width="0.49" stroke-linejoin="round" textLength="340.0" lengthAdjust="spacingAndGlyphs">Overall xPAR Percentile</text>
<line x1="1325.5" x2="2035.2" y1="1278.3" y2="1278.3" stroke="#d0d0d0" stroke-width="1.3"/>
<line x1="1325.5" x2="2035.2" y1="1185.0" y2="1185.0" stroke="#d0d0d0" stroke-width="1.3"/>
<line x1="1325.5" x2="2035.2" y1="1091.7" y2="1091.7" stroke="#d0d0d0" stroke-width="1.3"/>
<line x1="1325.5" x2="2035.2" y1="998.3" y2="998.3" stroke="#d0d0d0" stroke-width="1.3"/>
<text x="1310.0" y="1379.9" font-size="24.2" text-anchor="end" fill="#3a3a3a">0</text>
<text x="1310.0" y="1286.5" font-size="24.2" text-anchor="end" fill="#3a3a3a">25</text>
<text x="1310.0" y="1193.2" font-size="24.2" text-anchor="end" fill="#3a3a3a">50</text>
<text x="1310.0" y="1099.9" font-size="24.2" text-anchor="end" fill="#3a3a3a">75</text>
<text x="1310.0" y="1006.5" font-size="24.2" text-anchor="end" fill="#3a3a3a">100</text>
<polyline points="1393.6,1028.2 1508.2,1017.0 1622.9,1009.5 1737.5,1005.8 1852.2,1005.8 1966.8,1005.8" fill="none" stroke="#000" stroke-width="6.6" stroke-linejoin="round"/>
<circle cx="1393.6" cy="1028.2" r="8" fill="#000"/>
<circle cx="1508.2" cy="1017.0" r="8" fill="#000"/>
<circle cx="1622.9" cy="1009.5" r="8" fill="#000"/>
<circle cx="1737.5" cy="1005.8" r="8" fill="#000"/>
<circle cx="1852.2" cy="1005.8" r="8" fill="#000"/>
<circle cx="1966.8" cy="1005.8" r="8" fill="#000"/>
<line x1="1325.5" x2="2035.2" y1="1371.7" y2="1371.7" stroke="#000" stroke-width="3"/>
<text x="1393.6" y="1403.3" font-size="24.2" text-anchor="middle" fill="#3a3a3a">18-19</text>
<text x="1508.2" y="1403.3" font-size="24.2" text-anchor="middle" fill="#3a3a3a">19-20</text>
<text x="1622.9" y="1403.3" font-size="24.2" text-anchor="middle" fill="#3a3a3a">20-21</text>
<text x="1737.5" y="1403.3" font-size="24.2" text-anchor="middle" fill="#3a3a3a">21-22</text>
<text x="1852.2" y="1403.3" font-size="24.2" text-anchor="middle" fill="#3a3a3a">22-23</text>
<text x="1966.8" y="1403.3" font-size="24.2" text-anchor="middle" fill="#3a3a3a">23-24</text>
</g>
<g id="odf">
<text y="1488.2" font-size="37.5" stroke-width="0.35"><tspan x="1392" textLength="113" lengthAdjust="spacingAndGlyphs" fill="#0000E0" stroke="#0000E0">Offense</tspan><tspan x="1535.5" textLength="31" lengthAdjust="spacingAndGlyphs" fill="#000" stroke="#000">vs</tspan><tspan x="1591" textLength="117" lengthAdjust="spacingAndGlyphs" fill="#E8000F" stroke="#E8000F">Defense</tspan><tspan x="1734.3" textLength="31" lengthAdjust="spacingAndGlyphs" fill="#000" stroke="#000">vs</tspan><tspan x="1788.5" textLength="130" lengthAdjust="spacingAndGlyphs" fill="#7CC0E4" stroke="#7CC0E4">Finishing</tspan></text>
<line x1="1325.5" x2="2035.2" y1="1798.2" y2="1798.2" stroke="#d0d0d0" stroke-width="1.3"/>
<line x1="1325.5" x2="2035.2" y1="1706.4" y2="1706.4" stroke="#d0d0d0" stroke-width="1.3"/>
<line x1="1325.5" x2="2035.2" y1="1614.6" y2="1614.6" stroke="#d0d0d0" stroke-width="1.3"/>
<line x1="1325.5" x2="2035.2" y1="1522.8" y2="1522.8" stroke="#d0d0d0" stroke-width="1.3"/>
<text x="1310.0" y="1898.2" font-size="24.2" text-anchor="end" fill="#3a3a3a">0</text>
<text x="1310.0" y="1806.4" font-size="24.2" text-anchor="end" fill="#3a3a3a">25</text>
<text x="1310.0" y="1714.6" font-size="24.2" text-anchor="end" fill="#3a3a3a">50</text>
<text x="1310.0" y="1622.8" font-size="24.2" text-anchor="end" fill="#3a3a3a">75</text>
<text x="1310.0" y="1531.0" font-size="24.2" text-anchor="end" fill="#3a3a3a">100</text>
<line x1="1325.5" x2="2035.2" y1="1890.0" y2="1890.0" stroke="#000" stroke-width="3"/>
<polyline points="1393.6,1548.5 1508.2,1548.5 1622.9,1541.2 1737.5,1541.2 1852.2,1526.5 1966.8,1526.5" fill="none" stroke="#0000E0" stroke-width="7" stroke-linejoin="round"/>
<circle cx="1393.6" cy="1548.5" r="8" fill="#0000E0"/>
<circle cx="1508.2" cy="1548.5" r="8" fill="#0000E0"/>
<circle cx="1622.9" cy="1541.2" r="8" fill="#0000E0"/>
<circle cx="1737.5" cy="1541.2" r="8" fill="#0000E0"/>
<circle cx="1852.2" cy="1526.5" r="8" fill="#0000E0"/>
<circle cx="1966.8" cy="1526.5" r="8" fill="#0000E0"/>
<polyline points="1393.6,1599.9 1508.2,1574.2 1622.9,1570.5 1737.5,1555.8 1852.2,1537.5 1966.8,1526.5" fill="none" stroke="#E8000F" stroke-width="7" stroke-linejoin="round"/>
<circle cx="1393.6" cy="1599.9" r="8" fill="#E8000F"/>
<circle cx="1508.2" cy="1574.2" r="8" fill="#E8000F"/>
<circle cx="1622.9" cy="1570.5" r="8" fill="#E8000F"/>
<circle cx="1737.5" cy="1555.8" r="8" fill="#E8000F"/>
<circle cx="1852.2" cy="1537.5" r="8" fill="#E8000F"/>
<circle cx="1966.8" cy="1526.5" r="8" fill="#E8000F"/>
<polyline points="1393.6,1886.3 1508.2,1541.2 1622.9,1559.5 1737.5,1537.5 1852.2,1599.9 1966.8,1563.2" fill="none" stroke="#7CC0E4" stroke-width="7" stroke-linejoin="round"/>
<circle cx="1393.6" cy="1886.3" r="8" fill="#7CC0E4"/>
<circle cx="1508.2" cy="1541.2" r="8" fill="#7CC0E4"/>
<circle cx="1622.9" cy="1559.5" r="8" fill="#7CC0E4"/>
<circle cx="1737.5" cy="1537.5" r="8" fill="#7CC0E4"/>
<circle cx="1852.2" cy="1599.9" r="8" fill="#7CC0E4"/>
<circle cx="1966.8" cy="1563.2" r="8" fill="#7CC0E4"/>
<text x="1393.6" y="1921.5" font-size="24.2" text-anchor="middle" fill="#3a3a3a">18-19</text>
<text x="1508.2" y="1921.5" font-size="24.2" text-anchor="middle" fill="#3a3a3a">19-20</text>
<text x="1622.9" y="1921.5" font-size="24.2" text-anchor="middle" fill="#3a3a3a">20-21</text>
<text x="1737.5" y="1921.5" font-size="24.2" text-anchor="middle" fill="#3a3a3a">21-22</text>
<text x="1852.2" y="1921.5" font-size="24.2" text-anchor="middle" fill="#3a3a3a">22-23</text>
<text x="1966.8" y="1921.5" font-size="24.2" text-anchor="middle" fill="#3a3a3a">23-24</text>
</g>
<g id="style">
<text x="2567.3" y="293.0" font-size="38" text-anchor="middle" fill="#000" stroke="#000" stroke-width="0.49" stroke-linejoin="round" textLength="165.0" lengthAdjust="spacingAndGlyphs">Style Trend</text>
<line x1="2151.8" x2="2984.2" y1="1109.1" y2="1109.1" stroke="#d0d0d0" stroke-width="1.3"/>
<line x1="2151.8" x2="2984.2" y1="857.8" y2="857.8" stroke="#d0d0d0" stroke-width="1.3"/>
<line x1="2151.8" x2="2984.2" y1="606.5" y2="606.5" stroke="#d0d0d0" stroke-width="1.3"/>
<line x1="2151.8" x2="2984.2" y1="355.2" y2="355.2" stroke="#d0d0d0" stroke-width="1.3"/>
<text x="2136.5" y="1368.6" font-size="24.2" text-anchor="end" fill="#3a3a3a">0</text>
<text x="2136.5" y="1117.3" font-size="24.2" text-anchor="end" fill="#3a3a3a">25</text>
<text x="2136.5" y="866.0" font-size="24.2" text-anchor="end" fill="#3a3a3a">50</text>
<text x="2136.5" y="614.7" font-size="24.2" text-anchor="end" fill="#3a3a3a">75</text>
<text x="2136.5" y="363.4" font-size="24.2" text-anchor="end" fill="#3a3a3a">100</text>
<polyline points="2176.0,465.8 2420.9,475.8 2665.8,566.3" fill="none" stroke="#666666" stroke-opacity="0.1" stroke-width="6" stroke-linejoin="round"/>
<circle cx="2176.0" cy="465.8" r="7" fill="#666666" fill-opacity="0.1"/>
<circle cx="2420.9" cy="475.8" r="7" fill="#666666" fill-opacity="0.1"/>
<circle cx="2665.8" cy="566.3" r="7" fill="#666666" fill-opacity="0.1"/>
<polyline points="2176.0,415.5 2420.9,415.5 2665.8,455.7" fill="none" stroke="#1B9E77" stroke-opacity="0.1" stroke-width="6" stroke-linejoin="round"/>
<circle cx="2176.0" cy="415.5" r="7" fill="#1B9E77" fill-opacity="0.1"/>
<circle cx="2420.9" cy="415.5" r="7" fill="#1B9E77" fill-opacity="0.1"/>
<circle cx="2665.8" cy="455.7" r="7" fill="#1B9E77" fill-opacity="0.1"/>
<polyline points="2176.0,495.9 2420.9,425.6 2665.8,465.8" fill="none" stroke="#D95F02" stroke-opacity="0.1" stroke-width="6" stroke-linejoin="round"/>
<circle cx="2176.0" cy="495.9" r="7" fill="#D95F02" fill-opacity="0.1"/>
<circle cx="2420.9" cy="425.6" r="7" fill="#D95F02" fill-opacity="0.1"/>
<circle cx="2665.8" cy="465.8" r="7" fill="#D95F02" fill-opacity="0.1"/>
<polyline points="2176.0,1018.6 2420.9,1089.0 2665.8,1129.2" fill="none" stroke="#7570B3" stroke-opacity="0.1" stroke-width="6" stroke-linejoin="round"/>
<circle cx="2176.0" cy="1018.6" r="7" fill="#7570B3" fill-opacity="0.1"/>
<circle cx="2420.9" cy="1089.0" r="7" fill="#7570B3" fill-opacity="0.1"/>
<circle cx="2665.8" cy="1129.2" r="7" fill="#7570B3" fill-opacity="0.1"/>
<polyline points="2176.0,1038.7 2420.9,1058.8 2665.8,1028.7" fill="none" stroke="#66A61E" stroke-opacity="0.1" stroke-width="6" stroke-linejoin="round"/>
<circle cx="2176.0" cy="1038.7" r="7" fill="#66A61E" fill-opacity="0.1"/>
<circle cx="2420.9" cy="1058.8" r="7" fill="#66A61E" fill-opacity="0.1"/>
<circle cx="2665.8" cy="1028.7" r="7" fill="#66A61E" fill-opacity="0.1"/>
<polyline points="2176.0,948.3 2420.9,1038.7 2665.8,1089.0" fill="none" stroke="#A6761D" stroke-opacity="0.1" stroke-width="6" stroke-linejoin="round"/>
<circle cx="2176.0" cy="948.3" r="7" fill="#A6761D" fill-opacity="0.1"/>
<circle cx="2420.9" cy="1038.7" r="7" fill="#A6761D" fill-opacity="0.1"/>
<circle cx="2665.8" cy="1089.0" r="7" fill="#A6761D" fill-opacity="0.1"/>
<polyline points="2176.0,626.6 2420.9,576.3 2665.8,596.4" fill="none" stroke="#4D4D4D" stroke-opacity="0.1" stroke-width="6" stroke-linejoin="round"/>
<circle cx="2176.0" cy="626.6" r="7" fill="#4D4D4D" fill-opacity="0.1"/>
<circle cx="2420.9" cy="576.3" r="7" fill="#4D4D4D" fill-opacity="0.1"/>
<circle cx="2665.8" cy="596.4" r="7" fill="#4D4D4D" fill-opacity="0.1"/>
<polyline points="2176.0,576.3 2420.9,737.2 2665.8,928.2" fill="none" stroke="#E39E0B" stroke-opacity="1" stroke-width="7" stroke-linejoin="round"/>
<circle cx="2176.0" cy="576.3" r="7.5" fill="#E39E0B" fill-opacity="1"/>
<circle cx="2420.9" cy="737.2" r="7.5" fill="#E39E0B" fill-opacity="1"/>
<circle cx="2665.8" cy="928.2" r="7.5" fill="#E39E0B" fill-opacity="1"/>
<line x1="2151.8" x2="2984.2" y1="1360.4" y2="1360.4" stroke="#000" stroke-width="3"/>
<line x1="2668.8" y1="566.3" x2="2856.0" y2="554.3" stroke="#666666" stroke-width="2.4"/>
<rect x="2856.0" y="535.4" width="110.2" height="37.1" rx="6" fill="#fff" stroke="#666666" stroke-width="1.6"/>
<text x="2911.1" y="562.4" font-size="23.8" text-anchor="middle" fill="#666666">Carrying</text>
<line x1="2668.8" y1="455.7" x2="2856.0" y2="421.7" stroke="#1B9E77" stroke-width="2.4"/>
<rect x="2856.0" y="401.9" width="110.2" height="37.5" rx="6" fill="#fff" stroke="#1B9E77" stroke-width="1.6"/>
<text x="2911.1" y="429.0" font-size="23.8" text-anchor="middle" fill="#1B9E77">Creation</text>
<line x1="2668.8" y1="465.8" x2="2854.0" y2="476.9" stroke="#D95F02" stroke-width="2.4"/>
<rect x="2854.0" y="458.6" width="114.3" height="37.2" rx="6" fill="#fff" stroke="#D95F02" stroke-width="1.6"/>
<text x="2911.2" y="485.6" font-size="23.8" text-anchor="middle" fill="#D95F02">Crossing</text>
<line x1="2668.8" y1="1129.2" x2="2776.4" y2="1140.1" stroke="#7570B3" stroke-width="2.4"/>
<rect x="2776.4" y="1122.1" width="198.6" height="36.7" rx="6" fill="#fff" stroke="#7570B3" stroke-width="1.6"/>
<text x="2875.7" y="1148.8" font-size="23.8" text-anchor="middle" fill="#7570B3">Defensive Action</text>
<line x1="2668.8" y1="1028.7" x2="2776.4" y2="1026.5" stroke="#66A61E" stroke-width="2.4"/>
<rect x="2776.4" y="1007.8" width="198.6" height="37.2" rx="6" fill="#fff" stroke="#66A61E" stroke-width="1.6"/>
<text x="2875.7" y="1034.8" font-size="23.8" text-anchor="middle" fill="#66A61E">Long Distribution</text>
<line x1="2668.8" y1="1089.0" x2="2698.8" y2="1083.7" stroke="#A6761D" stroke-width="2.4"/>
<rect x="2698.8" y="1065.0" width="276.2" height="37.1" rx="6" fill="#fff" stroke="#A6761D" stroke-width="1.6"/>
<text x="2836.9" y="1092.0" font-size="23.8" text-anchor="middle" fill="#A6761D">Possession Involvement</text>
<line x1="2668.8" y1="596.4" x2="2870.7" y2="610.5" stroke="#4D4D4D" stroke-width="2.4"/>
<rect x="2870.7" y="592.6" width="80.9" height="36.7" rx="6" fill="#fff" stroke="#4D4D4D" stroke-width="1.6"/>
<text x="2911.1" y="619.4" font-size="23.8" text-anchor="middle" fill="#4D4D4D">Shots</text>
<line x1="2668.8" y1="928.2" x2="2766.4" y2="928.9" stroke="#E39E0B" stroke-width="2.4"/>
<rect x="2766.4" y="910.6" width="208.6" height="36.7" rx="6" fill="#fff" stroke="#E39E0B" stroke-width="1.6"/>
<text x="2870.7" y="937.4" font-size="23.8" text-anchor="middle" fill="#E39E0B">Passing Accuracy</text>
<text x="2176.0" y="1396.7" font-size="24.2" text-anchor="middle" fill="#3a3a3a">21-22</text>
<text x="2420.9" y="1396.7" font-size="24.2" text-anchor="middle" fill="#3a3a3a">22-23</text>
<text x="2665.8" y="1396.7" font-size="24.2" text-anchor="middle" fill="#3a3a3a">23-24</text>
</g>
<g id="similar">
<text x="2660.8" y="1484.2" font-size="37.5" text-anchor="middle" fill="#000" stroke="#000" stroke-width="0.49" stroke-linejoin="round" textLength="216.0" lengthAdjust="spacingAndGlyphs">Similar Players</text>
<rect x="2368.2" y="1528.0" width="524.7" height="41.8" fill="#FF7F88" stroke="#111" stroke-width="3.2"/>
<rect x="2854.7" y="1531.9" width="76.5" height="34" rx="6" fill="#fff" stroke="#111" stroke-width="1.4"/>
<text x="2892.9" y="1556.1" font-size="20" text-anchor="middle" fill="#000">98.3%</text>
<text x="2324.0" y="1544.7" font-size="27" text-anchor="end" fill="#000" stroke="#000" stroke-width="0.35" stroke-linejoin="round" textLength="100.0" lengthAdjust="spacingAndGlyphs">Raphinha</text>
<text x="2324.0" y="1574.8" font-size="27" text-anchor="end" fill="#000" stroke="#000" stroke-width="0.35" stroke-linejoin="round" textLength="126.0" lengthAdjust="spacingAndGlyphs">(Barcelona)</text>
<rect x="2368.2" y="1612.5" width="512.4" height="41.8" fill="#FB918A" stroke="#111" stroke-width="3.2"/>
<rect x="2850.6" y="1616.4" width="60" height="34" rx="6" fill="#fff" stroke="#111" stroke-width="1.4"/>
<text x="2880.6" y="1640.6" font-size="20" text-anchor="middle" fill="#000">96%</text>
<text x="2324.0" y="1629.2" font-size="27" text-anchor="end" fill="#000" stroke="#000" stroke-width="0.35" stroke-linejoin="round" textLength="205.0" lengthAdjust="spacingAndGlyphs">Aleksey Miranchuk</text>
<text x="2324.0" y="1659.3" font-size="27" text-anchor="end" fill="#000" stroke="#000" stroke-width="0.35" stroke-linejoin="round" textLength="108.0" lengthAdjust="spacingAndGlyphs">(Atalanta)</text>
<rect x="2368.2" y="1697.0" width="509.2" height="41.8" fill="#FB918A" stroke="#111" stroke-width="3.2"/>
<rect x="2839.2" y="1700.9" width="76.5" height="34" rx="6" fill="#fff" stroke="#111" stroke-width="1.4"/>
<text x="2877.4" y="1725.1" font-size="20" text-anchor="middle" fill="#000">95.4%</text>
<text x="2324.0" y="1713.7" font-size="27" text-anchor="end" fill="#000" stroke="#000" stroke-width="0.35" stroke-linejoin="round" textLength="151.0" lengthAdjust="spacingAndGlyphs">Pablo Sarabia</text>
<text x="2324.0" y="1743.8" font-size="27" text-anchor="end" fill="#000" stroke="#000" stroke-width="0.35" stroke-linejoin="round" textLength="188.0" lengthAdjust="spacingAndGlyphs">(Wolverhampton)</text>
<rect x="2368.2" y="1781.5" width="507.1" height="41.8" fill="#FB918A" stroke="#111" stroke-width="3.2"/>
<rect x="2845.3" y="1785.4" width="60" height="34" rx="6" fill="#fff" stroke="#111" stroke-width="1.4"/>
<text x="2875.3" y="1809.6" font-size="20" text-anchor="middle" fill="#000">95%</text>
<text x="2324.0" y="1798.2" font-size="27" text-anchor="end" fill="#000" stroke="#000" stroke-width="0.35" stroke-linejoin="round" textLength="129.0" lengthAdjust="spacingAndGlyphs">Marquinhos</text>
<text x="2324.0" y="1828.3" font-size="27" text-anchor="end" fill="#000" stroke="#000" stroke-width="0.35" stroke-linejoin="round" textLength="94.0" lengthAdjust="spacingAndGlyphs">(Nantes)</text>
<rect x="2368.2" y="1866.0" width="505.5" height="41.8" fill="#FB918A" stroke="#111" stroke-width="3.2"/>
<rect x="2835.5" y="1869.9" width="76.5" height="34" rx="6" fill="#fff" stroke="#111" stroke-width="1.4"/>
<text x="2873.7" y="1894.1" font-size="20" text-anchor="middle" fill="#000">94.7%</text>
<text x="2324.0" y="1882.7" font-size="27" text-anchor="end" fill="#000" stroke="#000" stroke-width="0.35" stroke-linejoin="round" textLength="144.0" lengthAdjust="spacingAndGlyphs">Julian Brandt</text>
<text x="2324.0" y="1912.8" font-size="27" text-anchor="end" fill="#000" stroke="#000" stroke-width="0.35" stroke-linejoin="round" textLength="226.0" lengthAdjust="spacingAndGlyphs">(Borussia Dortmund)</text>
</g>
<g id="footer" font-style="italic">
<text x="60.0" y="1991.0" font-size="27.8" text-anchor="start" fill="#111" stroke="#111" stroke-width="0.45" stroke-linejoin="round" textLength="356.2" lengthAdjust="spacingAndGlyphs">Source: Understat, Opta via FBref</text>
<text x="60.0" y="2030.7" font-size="27.8" text-anchor="start" fill="#111" stroke="#111" stroke-width="0.45" stroke-linejoin="round" textLength="2891.4" lengthAdjust="spacingAndGlyphs">Notes: Created by @macro_football on 2024-06-01. All percentiles and metrics are relative to all players in the top 5 European leagues. Overall is the player's expected points above replacement (xPAR) percentile. Offense and Defense Impact percentiles and Z-Scores are</text>
<text x="60.0" y="2070.4" font-size="27.8" text-anchor="start" fill="#111" stroke="#111" stroke-width="0.45" stroke-linejoin="round" textLength="2876.0" lengthAdjust="spacingAndGlyphs">the player's isolated impact on xGF and xGA (or GF and GA) per 90, controlling for teammates, opposition players, managers, score, situation, etc..., scaled relative to European Top 5 League average. Finishing (or Saving) Impact percentiles and Z-Scores are the player's</text>
<text x="60.0" y="2110.1" font-size="27.8" text-anchor="start" fill="#111" stroke="#111" stroke-width="0.45" stroke-linejoin="round" textLength="2902.0" lengthAdjust="spacingAndGlyphs">impact on shot xG, relative to European Top 5 League average. Shot (or xG) Share is the share of the team's shots (or xG) that the player takes when on the field. Usage is the share of the team's xG that the player is responsible for when on the field via either shots or shot</text>
<text x="60.0" y="2149.8" font-size="27.8" text-anchor="start" fill="#111" stroke="#111" stroke-width="0.45" stroke-linejoin="round" textLength="2899.4" lengthAdjust="spacingAndGlyphs">assists. Individual characteristics (i.e. dribbling and creating) are based on a dimensionality reduction of each player's micro-statistics (i.e. short pass attempts and interceptions). Player types (i.e. ball-playing defender) are based on a clustering analysis of every player's</text>
<text x="60.0" y="2189.5" font-size="27.8" text-anchor="start" fill="#111" stroke="#111" stroke-width="0.45" stroke-linejoin="round" textLength="996.7" lengthAdjust="spacingAndGlyphs">individual characteristics. Player similarity scores are based on the same clustering analysis.</text>
</g>
</svg></body></html>
